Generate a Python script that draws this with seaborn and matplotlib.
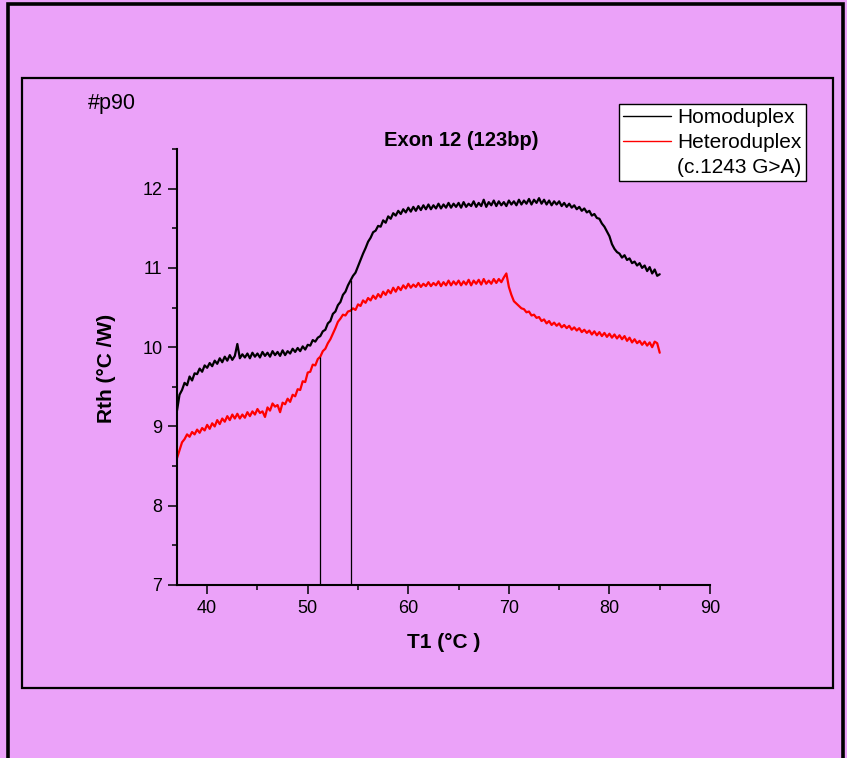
import numpy as np
import pandas as pd
import matplotlib
matplotlib.use("Agg")
import matplotlib.pyplot as plt
from matplotlib.lines import Line2D
from matplotlib.patches import Rectangle
import seaborn as sns

# ---------------- data ----------------
temps = np.linspace(37.0, 85.0, 193)  # sampling grid, 0.25 °C steps

homoduplex = [
    9.20, 9.40, 9.46, 9.55, 9.52, 9.63, 9.58, 9.67,
    9.66, 9.73, 9.69, 9.77, 9.74, 9.80, 9.76, 9.83,
    9.79, 9.86, 9.81, 9.88, 9.83, 9.90, 9.84, 9.89,
    10.04, 9.86, 9.91, 9.87, 9.92, 9.86, 9.93, 9.88,
    9.92, 9.87, 9.94, 9.89, 9.93, 9.88, 9.95, 9.90,
    9.94, 9.89, 9.96, 9.90, 9.95, 9.92, 9.98, 9.94,
    9.99, 9.95, 10.01, 9.97, 10.03, 10.02, 10.09, 10.07,
    10.12, 10.14, 10.20, 10.22, 10.30, 10.33, 10.42, 10.45,
    10.53, 10.57, 10.66, 10.70, 10.78, 10.84, 10.90, 10.94,
    11.02, 11.10, 11.18, 11.25, 11.33, 11.38, 11.45, 11.47,
    11.53, 11.52, 11.60, 11.57, 11.65, 11.62, 11.69, 11.66,
    11.72, 11.68, 11.74, 11.70, 11.76, 11.71, 11.77, 11.72,
    11.78, 11.73, 11.79, 11.74, 11.80, 11.74, 11.79, 11.75,
    11.81, 11.75, 11.80, 11.76, 11.82, 11.76, 11.81, 11.77,
    11.82, 11.76, 11.83, 11.77, 11.81, 11.78, 11.84, 11.77,
    11.82, 11.78, 11.86, 11.77, 11.83, 11.79, 11.85, 11.78,
    11.84, 11.79, 11.83, 11.78, 11.85, 11.80, 11.84, 11.79,
    11.86, 11.80, 11.85, 11.81, 11.87, 11.80, 11.86, 11.82,
    11.88, 11.81, 11.86, 11.80, 11.85, 11.79, 11.84, 11.80,
    11.84, 11.78, 11.82, 11.77, 11.81, 11.76, 11.79, 11.74,
    11.77, 11.72, 11.75, 11.70, 11.72, 11.66, 11.68, 11.63,
    11.62, 11.56, 11.52, 11.46, 11.40, 11.30, 11.24, 11.20,
    11.18, 11.13, 11.16, 11.10, 11.12, 11.06, 11.08, 11.03,
    11.06, 11.00, 11.03, 10.96, 11.01, 10.93, 10.98, 10.90,
    10.92,
]

heteroduplex = [
    8.60, 8.70, 8.80, 8.84, 8.90, 8.87, 8.93, 8.90,
    8.96, 8.92, 8.98, 8.95, 9.02, 8.97, 9.04, 9.00,
    9.08, 9.03, 9.10, 9.06, 9.13, 9.08, 9.15, 9.10,
    9.16, 9.10, 9.15, 9.11, 9.18, 9.13, 9.19, 9.15,
    9.22, 9.17, 9.19, 9.12, 9.24, 9.20, 9.29, 9.25,
    9.27, 9.18, 9.30, 9.28, 9.35, 9.31, 9.40, 9.38,
    9.47, 9.46, 9.57, 9.56, 9.68, 9.69, 9.78, 9.77,
    9.85, 9.88, 9.95, 9.98, 10.05, 10.10, 10.17, 10.24,
    10.32, 10.36, 10.41, 10.40, 10.45, 10.46, 10.49, 10.47,
    10.54, 10.52, 10.59, 10.56, 10.62, 10.59, 10.65, 10.61,
    10.67, 10.63, 10.70, 10.66, 10.72, 10.68, 10.75, 10.70,
    10.76, 10.72, 10.78, 10.74, 10.80, 10.75, 10.79, 10.76,
    10.81, 10.76, 10.80, 10.77, 10.82, 10.77, 10.81, 10.78,
    10.83, 10.77, 10.82, 10.78, 10.84, 10.78, 10.83, 10.79,
    10.84, 10.78, 10.83, 10.79, 10.85, 10.78, 10.84, 10.80,
    10.85, 10.79, 10.86, 10.80, 10.84, 10.80, 10.86, 10.81,
    10.86, 10.82, 10.88, 10.93, 10.76, 10.66, 10.58, 10.55,
    10.52, 10.49, 10.48, 10.44, 10.45, 10.40, 10.41, 10.37,
    10.38, 10.33, 10.35, 10.30, 10.33, 10.28, 10.31, 10.27,
    10.30, 10.25, 10.28, 10.24, 10.27, 10.22, 10.25, 10.21,
    10.24, 10.19, 10.22, 10.18, 10.21, 10.16, 10.20, 10.15,
    10.19, 10.14, 10.18, 10.13, 10.17, 10.12, 10.16, 10.11,
    10.15, 10.10, 10.14, 10.08, 10.12, 10.06, 10.10, 10.05,
    10.08, 10.03, 10.07, 10.02, 10.06, 10.00, 10.07, 10.05,
    9.93,
]

marker_temps = [51.2, 54.3]
marker_tops = [9.88, 10.85]

series_names = ["Homoduplex", "Heteroduplex"]
series_colors = ["black", "red"]
legend_extra = "(c.1243 G>A)"

x_ticks = [40, 50, 60, 70, 80, 90]
y_ticks = [7, 8, 9, 10, 11, 12]

title = "Exon 12 (123bp)"
sample_tag = "#p90"
x_label = "T1 (°C )"
y_label = "Rth (°C /W)"

# ---------------- styling ----------------
sns.set_style("ticks")
plt.rcParams["font.family"] = ["Liberation Sans", "DejaVu Sans"]
plt.rcParams["text.color"] = "black"
plt.rcParams["axes.labelcolor"] = "black"
plt.rcParams["xtick.color"] = "black"
plt.rcParams["ytick.color"] = "black"
BG = "#EBA2F9"

df = pd.DataFrame({
    "T1": np.concatenate([temps, temps]),
    "Rth": np.concatenate([homoduplex, heteroduplex]),
    "series": [series_names[0]] * len(temps) + [series_names[1]] * len(temps),
})

fig = plt.figure(figsize=(8.47, 7.58), dpi=100, facecolor=BG)
ax = fig.add_axes([177 / 847, 1 - 585 / 758, 533 / 847, (585 - 149) / 758])
ax.set_facecolor(BG)

sns.lineplot(data=df, x="T1", y="Rth", hue="series", palette=series_colors,
             hue_order=series_names, ax=ax, linewidth=1.6, legend=False,
             estimator=None, sort=False)

ax.vlines(marker_temps, 7, marker_tops, colors="black", linewidth=0.9)

ax.set_xlim(37, 90)
ax.set_ylim(7, 12.5)
ax.set_xticks(x_ticks)
ax.set_yticks(y_ticks)
ax.set_xticks([45, 55, 65, 75, 85], minor=True)
ax.set_yticks([7.5, 8.5, 9.5, 10.5, 11.5, 12.5], minor=True)
ax.tick_params(which="major", direction="out", length=6.5, width=1.1,
               labelsize=13, pad=4, colors="black")
ax.tick_params(which="minor", direction="out", length=3.4, width=1.1,
               colors="black")
ax.set_xlabel("")
ax.set_ylabel("")
for s in ["top", "right"]:
    ax.spines[s].set_visible(False)
for s in ["left", "bottom"]:
    ax.spines[s].set_linewidth(1.5)
    ax.spines[s].set_color("black")

# texts
fig.text(461 / 847, 1 - 140 / 758, title, ha="center", va="center",
         fontsize=14.5, fontweight="bold", color="black")
fig.text(112 / 847, 1 - 104 / 758, sample_tag, ha="center", va="center",
         fontsize=15.5, color="black")
fig.text(444 / 847, 1 - 643 / 758, x_label, ha="center", va="center",
         fontsize=15, fontweight="bold", color="black")
fig.text(106 / 847, 1 - 368 / 758, y_label, ha="center", va="center",
         rotation=90, fontsize=15, fontweight="bold", color="black")

# legend
handles = [Line2D([], [], color=c, linewidth=1.0) for c in series_colors]
handles.append(Line2D([], [], color="none"))
labels = series_names + [legend_extra]
leg = fig.legend(handles, labels, loc="upper right",
                 bbox_to_anchor=(806 / 847, 1 - 104 / 758),
                 bbox_transform=fig.transFigure, fontsize=15,
                 frameon=True, fancybox=False, framealpha=1,
                 edgecolor="black", facecolor="white",
                 handlelength=2.3, handletextpad=0.3, labelspacing=0.28,
                 borderpad=0.2, borderaxespad=0)
leg.get_frame().set_linewidth(1.0)
for t in leg.get_texts():
    t.set_color("black")

# inner and outer frames
fig.patches.append(Rectangle((22 / 847, 1 - 688 / 758), (833 - 22) / 847,
                             (688 - 78) / 758, transform=fig.transFigure,
                             fill=False, edgecolor="black", linewidth=1.6))
fig.patches.append(Rectangle((7.5 / 847, -0.1), (843 - 7.5) / 847,
                             1.1 - 4.5 / 758, transform=fig.transFigure,
                             fill=False, edgecolor="black", linewidth=2.6))

fig.savefig("out.png", dpi=100, facecolor=BG)
